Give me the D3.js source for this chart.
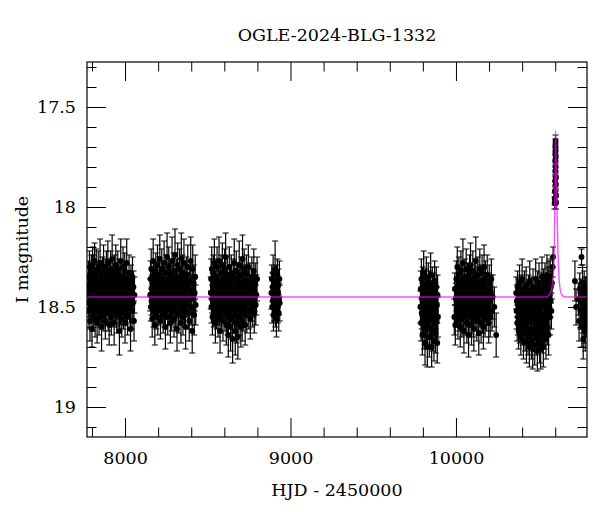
<!DOCTYPE html>
<html><head><meta charset="utf-8">
<script src="https://cdn.jsdelivr.net/npm/d3@7"></script>
<style>body{margin:0;background:#fff}text{font-family:"DejaVu Serif",serif;fill:#000}</style>
</head><body>
<svg id="c" width="600" height="512"></svg>
<script>
const title = "OGLE-2024-BLG-1332";
const xLabel = "HJD - 2450000";
const yLabel = "I magnitude";
const xMajorTicks = [8000, 9000, 10000];
const xMinorTicks = [7800, 8200, 8400, 8600, 8800, 9200, 9400, 9600, 9800, 10200, 10400, 10600];
const yMajorTicks = [17.5, 18, 18.5, 19];
const yMinorTicks = [17.3,17.4,17.6,17.7,17.8,17.9,18.1,18.2,18.3,18.4,18.6,18.7,18.8,18.9,19.1];

// [HJD-2450000, I mag, error]
const season1 = [[7778,18.41,.07],[7779,18.35,.08],[7781,18.48,.07],[7782,18.52,.09],[7784,18.39,.06],[7785,18.30,.08],[7787,18.44,.07],[7788,18.57,.10],[7790,18.46,.07],[7791,18.36,.08],[7793,18.42,.06],[7795,18.50,.08],[7796,18.33,.09],[7798,18.45,.07],[7800,18.61,.09],[7801,18.38,.07],[7803,18.47,.08],[7804,18.29,.09],[7806,18.43,.06],[7808,18.54,.08],[7809,18.40,.07],[7811,18.34,.10],[7813,18.49,.07],[7814,18.42,.07],[7816,18.27,.09],[7818,18.45,.08],[7819,18.56,.09],[7821,18.38,.07],[7823,18.44,.06],[7824,18.51,.08],[7826,18.32,.11],[7828,18.46,.07],[7830,18.40,.08],[7831,18.58,.10],[7833,18.36,.07],[7835,18.43,.07],[7836,18.49,.08],[7838,18.31,.09],[7840,18.47,.07],[7842,18.41,.06],[7843,18.55,.09],[7845,18.37,.08],[7847,18.45,.07],[7849,18.28,.12],[7850,18.52,.08],[7852,18.42,.07],[7854,18.35,.08],[7856,18.48,.07],[7858,18.60,.12],[7859,18.39,.07],[7861,18.44,.06],[7863,18.33,.08],[7865,18.50,.09],[7867,18.41,.07],[7868,18.46,.08],[7870,18.30,.11],[7872,18.54,.08],[7874,18.38,.07],[7876,18.43,.06],[7878,18.49,.08],[7879,18.35,.09],[7881,18.57,.09],[7883,18.40,.07],[7885,18.45,.07],[7887,18.32,.10],[7889,18.51,.08],[7890,18.42,.06],[7892,18.37,.08],[7894,18.47,.07],[7896,18.28,.11],[7898,18.53,.09],[7900,18.44,.07],[7902,18.39,.07],[7904,18.59,.10],[7905,18.34,.08],[7907,18.46,.07],[7909,18.41,.06],[7911,18.50,.08],[7913,18.31,.09],[7915,18.44,.07],[7917,18.55,.09],[7919,18.38,.07],[7920,18.48,.08],[7922,18.26,.12],[7924,18.43,.07],[7926,18.52,.08],[7928,18.36,.08],[7930,18.45,.06],[7932,18.40,.07],[7934,18.58,.11],[7936,18.33,.09],[7938,18.47,.07],[7940,18.42,.07],[7942,18.50,.08],[7944,18.29,.10],[7946,18.44,.07],[7948,18.37,.08],[7950,18.54,.09],[7952,18.41,.06],[7954,18.46,.07],[7956,18.31,.09],[7958,18.52,.08],[7960,18.39,.07],[7962,18.48,.08],[7964,18.34,.08],[7966,18.62,.12],[7968,18.43,.07],[7970,18.38,.07],[7972,18.51,.08],[7974,18.27,.11],[7976,18.45,.07],[7978,18.40,.06],[7980,18.56,.09],[7982,18.35,.08],[7984,18.47,.07],[7986,18.42,.07],[7988,18.30,.10],[7990,18.53,.08],[7992,18.44,.06],[7994,18.37,.08],[7996,18.49,.07],[7998,18.32,.09],[8000,18.58,.10],[8002,18.41,.07],[8004,18.46,.07],[8006,18.36,.08],[8008,18.51,.08],[8010,18.28,.12],[8012,18.43,.07],[8015,18.55,.09],[8018,18.39,.07],[8021,18.47,.08],[8024,18.33,.09],[8027,18.50,.08],[8030,18.42,.07],[8033,18.61,.11],[8036,18.37,.08],[8039,18.45,.07],[8042,18.52,.09],[8045,18.35,.10],[8048,18.48,.08],[8051,18.40,.08],[8054,18.57,.10],[8057,18.44,.09]];
const season2 = [[8152,18.44,.08],[8154,18.36,.09],[8156,18.50,.07],[8158,18.31,.10],[8160,18.47,.07],[8162,18.41,.07],[8164,18.56,.09],[8166,18.38,.08],[8168,18.45,.06],[8170,18.27,.11],[8172,18.52,.08],[8174,18.43,.07],[8176,18.35,.08],[8178,18.49,.07],[8180,18.59,.10],[8182,18.40,.07],[8184,18.46,.06],[8186,18.32,.09],[8188,18.53,.08],[8190,18.42,.07],[8192,18.37,.08],[8194,18.48,.07],[8196,18.29,.10],[8198,18.55,.09],[8200,18.44,.07],[8202,18.39,.06],[8204,18.51,.08],[8206,18.34,.09],[8208,18.46,.07],[8210,18.26,.12],[8212,18.42,.07],[8214,18.57,.09],[8216,18.37,.07],[8218,18.48,.08],[8220,18.41,.06],[8222,18.31,.10],[8224,18.50,.08],[8226,18.44,.07],[8228,18.36,.08],[8230,18.54,.09],[8232,18.40,.07],[8234,18.47,.06],[8236,18.28,.11],[8238,18.52,.08],[8240,18.43,.07],[8242,18.38,.08],[8244,18.60,.11],[8246,18.45,.07],[8248,18.33,.09],[8250,18.49,.07],[8252,18.41,.06],[8254,18.25,.12],[8256,18.46,.07],[8258,18.55,.09],[8260,18.39,.07],[8262,18.44,.07],[8264,18.30,.10],[8266,18.51,.08],[8268,18.42,.06],[8270,18.36,.08],[8272,18.48,.07],[8274,18.58,.10],[8276,18.34,.08],[8278,18.45,.07],[8280,18.40,.07],[8282,18.53,.09],[8284,18.27,.12],[8286,18.47,.07],[8288,18.43,.06],[8290,18.37,.08],[8292,18.50,.08],[8294,18.32,.09],[8296,18.56,.09],[8298,18.41,.07],[8300,18.46,.07],[8302,18.24,.13],[8304,18.44,.07],[8306,18.52,.08],[8308,18.38,.07],[8310,18.48,.07],[8312,18.35,.09],[8314,18.61,.11],[8316,18.42,.07],[8318,18.29,.11],[8320,18.47,.07],[8322,18.40,.06],[8324,18.54,.09],[8326,18.36,.08],[8328,18.45,.07],[8330,18.31,.10],[8332,18.51,.08],[8334,18.43,.07],[8336,18.38,.08],[8338,18.58,.10],[8340,18.26,.13],[8342,18.46,.07],[8344,18.41,.07],[8346,18.49,.08],[8348,18.33,.09],[8350,18.55,.09],[8352,18.44,.07],[8354,18.39,.07],[8356,18.28,.12],[8358,18.47,.08],[8360,18.52,.08],[8362,18.36,.08],[8364,18.43,.07],[8366,18.60,.11],[8368,18.40,.07],[8370,18.34,.09],[8373,18.48,.07],[8376,18.45,.07],[8379,18.30,.11],[8382,18.53,.08],[8385,18.41,.08],[8388,18.57,.10],[8391,18.37,.08],[8394,18.46,.07],[8397,18.27,.12],[8400,18.50,.09],[8403,18.42,.08],[8406,18.62,.11],[8409,18.31,.12],[8412,18.45,.09],[8415,18.38,.09],[8418,18.54,.10],[8421,18.43,.09],[8424,18.35,.11],[8427,18.49,.10]];
const season3 = [[8518,18.43,.08],[8520,18.36,.10],[8522,18.50,.08],[8524,18.31,.11],[8526,18.46,.07],[8528,18.55,.09],[8530,18.40,.07],[8532,18.47,.07],[8534,18.33,.09],[8536,18.52,.08],[8538,18.44,.07],[8540,18.28,.12],[8542,18.49,.08],[8544,18.39,.07],[8546,18.58,.10],[8548,18.42,.07],[8550,18.35,.09],[8552,18.47,.07],[8554,18.53,.08],[8556,18.30,.10],[8558,18.45,.07],[8560,18.41,.07],[8562,18.56,.09],[8564,18.37,.08],[8566,18.48,.07],[8568,18.27,.12],[8570,18.51,.08],[8572,18.43,.07],[8574,18.62,.11],[8576,18.38,.08],[8578,18.46,.07],[8580,18.33,.09],[8582,18.54,.09],[8584,18.42,.07],[8586,18.49,.08],[8588,18.29,.11],[8590,18.45,.07],[8592,18.57,.10],[8594,18.40,.07],[8596,18.36,.08],[8598,18.50,.08],[8600,18.44,.06],[8602,18.31,.10],[8604,18.53,.09],[8606,18.47,.07],[8608,18.25,.12],[8610,18.42,.07],[8612,18.59,.10],[8614,18.38,.08],[8616,18.48,.07],[8618,18.34,.09],[8620,18.55,.09],[8622,18.43,.07],[8624,18.64,.11],[8626,18.40,.07],[8628,18.46,.07],[8630,18.30,.10],[8632,18.52,.08],[8634,18.44,.07],[8636,18.37,.08],[8638,18.60,.12],[8640,18.49,.08],[8642,18.33,.09],[8644,18.45,.07],[8646,18.56,.10],[8648,18.41,.07],[8650,18.66,.12],[8652,18.47,.08],[8654,18.35,.09],[8656,18.51,.08],[8658,18.42,.07],[8660,18.28,.12],[8662,18.54,.09],[8664,18.45,.07],[8666,18.62,.12],[8668,18.39,.08],[8670,18.48,.07],[8672,18.32,.10],[8674,18.58,.10],[8676,18.43,.07],[8678,18.50,.08],[8680,18.36,.08],[8682,18.65,.11],[8684,18.46,.07],[8686,18.40,.07],[8688,18.55,.09],[8690,18.29,.12],[8692,18.47,.08],[8694,18.52,.08],[8696,18.38,.08],[8698,18.44,.07],[8700,18.60,.10],[8702,18.34,.09],[8704,18.49,.08],[8706,18.42,.07],[8708,18.57,.10],[8710,18.26,.12],[8712,18.46,.08],[8714,18.53,.09],[8716,18.39,.08],[8718,18.45,.07],[8720,18.31,.10],[8722,18.51,.08],[8724,18.43,.07],[8726,18.59,.10],[8728,18.37,.08],[8730,18.48,.07],[8733,18.33,.09],[8736,18.54,.09],[8739,18.41,.07],[8742,18.46,.08],[8745,18.30,.11],[8748,18.52,.09],[8751,18.44,.08],[8754,18.37,.09],[8757,18.56,.10],[8760,18.42,.08],[8763,18.48,.09],[8766,18.35,.10],[8769,18.51,.09],[8772,18.40,.09],[8775,18.46,.09],[8778,18.32,.11],[8781,18.53,.10],[8784,18.43,.09],[8787,18.38,.10],[8790,18.49,.10],[8794,18.44,.10],[8798,18.36,.11]];
const season4 = [[8885,18.43,.08],[8887,18.36,.07],[8889,18.50,.08],[8891,18.40,.07],[8893,18.47,.07],[8895,18.33,.09],[8897,18.54,.08],[8899,18.44,.07],[8901,18.38,.07],[8903,18.49,.08],[8905,18.42,.06],[8907,18.31,.14],[8909,18.52,.08],[8911,18.45,.07],[8913,18.37,.08],[8915,18.56,.09],[8917,18.41,.07],[8919,18.47,.07],[8921,18.34,.08],[8923,18.50,.08],[8925,18.43,.07],[8927,18.39,.08],[8929,18.53,.09],[8931,18.46,.08],[8933,18.36,.09],[8935,18.48,.09]];
const season5 = [[9785,18.50,.08],[9787,18.41,.09],[9789,18.58,.09],[9791,18.36,.10],[9793,18.53,.08],[9795,18.46,.08],[9797,18.64,.10],[9799,18.39,.09],[9801,18.55,.08],[9803,18.48,.08],[9805,18.33,.11],[9807,18.61,.10],[9809,18.51,.08],[9811,18.44,.08],[9813,18.68,.11],[9815,18.40,.09],[9817,18.56,.09],[9819,18.49,.08],[9821,18.35,.10],[9823,18.59,.09],[9825,18.52,.08],[9827,18.70,.10],[9829,18.43,.08],[9831,18.57,.09],[9833,18.38,.10],[9835,18.54,.08],[9837,18.47,.08],[9839,18.65,.10],[9841,18.41,.09],[9843,18.60,.09],[9845,18.50,.08],[9847,18.34,.11],[9849,18.56,.09],[9851,18.45,.08],[9853,18.70,.10],[9855,18.53,.08],[9857,18.39,.09],[9859,18.62,.10],[9861,18.48,.08],[9863,18.55,.09],[9865,18.42,.09],[9867,18.67,.10],[9869,18.51,.08],[9871,18.37,.10],[9873,18.58,.09],[9875,18.46,.08],[9877,18.63,.10],[9879,18.52,.09],[9881,18.40,.10],[9883,18.57,.09],[9885,18.49,.09],[9887,18.68,.10],[9889,18.44,.10],[9891,18.55,.10]];
const season6 = [[9990,18.55,.09],[9993,18.41,.08],[9996,18.59,.10],[9999,18.46,.08],[10002,18.36,.09],[10004,18.52,.08],[10006,18.43,.07],[10008,18.30,.10],[10010,18.49,.08],[10012,18.57,.09],[10014,18.40,.07],[10016,18.47,.07],[10018,18.34,.09],[10020,18.54,.08],[10022,18.44,.07],[10024,18.38,.08],[10026,18.60,.10],[10028,18.48,.07],[10030,18.32,.10],[10032,18.51,.08],[10034,18.42,.07],[10036,18.56,.09],[10038,18.37,.08],[10040,18.46,.07],[10042,18.28,.12],[10044,18.53,.08],[10046,18.45,.07],[10048,18.62,.11],[10050,18.39,.08],[10052,18.49,.07],[10054,18.35,.09],[10056,18.55,.09],[10058,18.43,.07],[10060,18.50,.08],[10062,18.31,.10],[10064,18.47,.07],[10066,18.58,.10],[10068,18.41,.07],[10070,18.36,.08],[10072,18.52,.08],[10074,18.44,.07],[10076,18.64,.11],[10078,18.38,.08],[10080,18.48,.07],[10082,18.33,.09],[10084,18.54,.09],[10086,18.46,.07],[10088,18.29,.11],[10090,18.51,.08],[10092,18.42,.07],[10094,18.59,.10],[10096,18.37,.08],[10098,18.49,.07],[10100,18.45,.07],[10102,18.32,.10],[10104,18.56,.09],[10106,18.43,.07],[10108,18.61,.11],[10110,18.40,.08],[10112,18.48,.07],[10114,18.35,.09],[10116,18.53,.08],[10118,18.46,.07],[10120,18.27,.12],[10122,18.50,.08],[10124,18.42,.07],[10126,18.57,.10],[10128,18.38,.08],[10130,18.47,.07],[10132,18.34,.09],[10134,18.55,.09],[10136,18.44,.07],[10138,18.63,.11],[10140,18.41,.07],[10142,18.49,.08],[10144,18.31,.10],[10146,18.52,.08],[10148,18.45,.07],[10150,18.37,.08],[10152,18.58,.10],[10154,18.43,.07],[10156,18.50,.08],[10158,18.33,.09],[10160,18.54,.09],[10162,18.47,.07],[10164,18.39,.08],[10166,18.60,.11],[10168,18.44,.07],[10170,18.30,.11],[10172,18.51,.08],[10174,18.42,.07],[10176,18.56,.09],[10178,18.36,.09],[10180,18.48,.08],[10183,18.45,.08],[10186,18.53,.09],[10189,18.34,.10],[10192,18.50,.09],[10195,18.41,.08],[10198,18.58,.10],[10201,18.38,.09],[10204,18.47,.09],[10207,18.55,.10],[10210,18.43,.09],[10214,18.36,.10],[10218,18.52,.10],[10222,18.45,.11],[10232,18.50,.10],[10243,18.64,.11]];
const season7 = [[10364,18.43,.08],[10366,18.52,.09],[10368,18.47,.08],[10370,18.58,.09],[10372,18.40,.08],[10374,18.55,.09],[10376,18.49,.08],[10378,18.62,.09],[10380,18.44,.08],[10382,18.53,.09],[10384,18.38,.09],[10386,18.59,.09],[10388,18.50,.08],[10390,18.46,.08],[10392,18.65,.09],[10394,18.42,.08],[10396,18.56,.09],[10398,18.51,.08],[10400,18.36,.10],[10402,18.60,.09],[10404,18.48,.08],[10406,18.54,.09],[10408,18.67,.09],[10410,18.44,.08],[10412,18.57,.09],[10414,18.41,.09],[10416,18.52,.08],[10418,18.63,.09],[10420,18.47,.08],[10422,18.55,.09],[10424,18.39,.09],[10426,18.68,.10],[10428,18.50,.08],[10430,18.58,.09],[10432,18.45,.08],[10434,18.53,.09],[10436,18.65,.09],[10438,18.42,.08],[10440,18.56,.09],[10442,18.49,.08],[10444,18.70,.10],[10446,18.37,.10],[10448,18.54,.09],[10450,18.61,.09],[10452,18.46,.08],[10454,18.52,.09],[10456,18.67,.09],[10458,18.43,.08],[10460,18.57,.09],[10462,18.50,.08],[10464,18.71,.10],[10466,18.40,.09],[10468,18.55,.09],[10470,18.63,.09],[10472,18.48,.08],[10474,18.53,.09],[10476,18.69,.10],[10478,18.44,.08],[10480,18.58,.09],[10482,18.36,.10],[10484,18.51,.08],[10486,18.65,.09],[10488,18.46,.08],[10490,18.56,.09],[10492,18.72,.10],[10494,18.41,.09],[10496,18.53,.09],[10498,18.61,.09],[10500,18.48,.08],[10502,18.38,.10],[10504,18.57,.09],[10506,18.68,.10],[10508,18.45,.08],[10510,18.52,.09],[10512,18.71,.10],[10514,18.42,.09],[10516,18.59,.09],[10518,18.49,.08],[10520,18.35,.10],[10522,18.55,.09],[10524,18.64,.09],[10526,18.46,.08],[10528,18.70,.10],[10530,18.40,.09],[10532,18.54,.09],[10534,18.50,.08],[10536,18.62,.09],[10538,18.37,.09],[10540,18.57,.09],[10542,18.47,.08],[10544,18.66,.10],[10546,18.43,.08],[10548,18.53,.09],[10550,18.34,.10],[10552,18.60,.09],[10554,18.45,.08],[10556,18.39,.09],[10558,18.51,.09],[10560,18.64,.10],[10562,18.36,.09],[10564,18.48,.08],[10566,18.42,.08],[10568,18.55,.09],[10570,18.35,.09],[10572,18.47,.08],[10574,18.40,.08],[10577,18.52,.09],[10580,18.38,.08]];
const peak = [[10584,18.30,.05],[10587,18.25,.05],[10596,17.98,.03],[10597,17.96,.03],[10598,17.92,.03],[10599,17.87,.03],[10600,17.82,.03],[10600,17.77,.03],[10601,17.73,.03],[10601,17.69,.03],[10602,17.67,.03],[10602,17.71,.03],[10603,17.75,.03],[10603,17.80,.03],[10604,17.85,.03],[10604,17.89,.03],[10605,17.94,.03],[10605,17.98,.03]];
const season8 = [[10719,18.37,.10],[10726,18.50,.09],[10740,18.46,.08],[10744,18.57,.10],[10748,18.41,.08],[10752,18.52,.09],[10756,18.44,.08],[10759,18.25,.04],[10761,18.60,.10],[10763,18.48,.08],[10765,18.38,.09],[10767,18.54,.09],[10769,18.66,.10],[10771,18.45,.08],[10773,18.51,.09],[10775,18.40,.08],[10777,18.58,.10],[10779,18.47,.08],[10781,18.62,.10],[10783,18.43,.08],[10785,18.53,.09],[10787,18.49,.08],[10789,18.56,.09],[10791,18.44,.09]];

// microlensing model curve
const modelT   = [7770, 10540, 10565, 10578, 10588, 10594, 10598, 10600, 10602, 10604, 10608, 10613, 10618, 10628, 10640, 10660, 10792];
const modelMag = [18.45, 18.45, 18.44, 18.41, 18.35, 18.23, 17.98, 17.78, 17.62, 17.72, 17.90, 18.10, 18.26, 18.40, 18.44, 18.45, 18.45];

const m = {left: 87, top: 62, right: 587, bottom: 437};
const x = d3.scaleLinear().domain([7770, 10792]).range([m.left, m.right]);
const y = d3.scaleLinear().domain([17.275, 19.15]).range([m.top, m.bottom]);
const FONT = "17.5px";

const svg = d3.select("#c");
svg.append("defs").append("clipPath").attr("id","clip")
  .append("rect").attr("x", m.left).attr("y", m.top).attr("width", m.right-m.left).attr("height", m.bottom-m.top);

const data = [].concat(season1, season2, season3, season4, season5, season6, season7, peak, season8);
const g = svg.append("g").attr("clip-path","url(#clip)");
const cap = 3;
const eb = g.append("g").attr("stroke","#000").attr("stroke-width",1.2).attr("fill","none");
data.forEach(d => {
  const px = x(d[0]), y1 = y(d[1]-d[2]), y2 = y(d[1]+d[2]);
  eb.append("path").attr("d", `M${px},${y1}V${y2}M${px-cap},${y1}H${px+cap}M${px-cap},${y2}H${px+cap}`);
});
g.append("g").selectAll("circle").data(data).join("circle")
  .attr("cx", d => x(d[0])).attr("cy", d => y(d[1])).attr("r", 2.9).attr("fill","#000");

const model = modelT.map((t,i) => [t, modelMag[i]]);
g.append("path").datum(model)
  .attr("d", d3.line().x(d => x(d[0])).y(d => y(d[1])).curve(d3.curveMonotoneX))
  .attr("fill","none").attr("stroke","#ff00ff").attr("stroke-width",1.4).attr("stroke-opacity",0.7);

// axes (inward ticks on all sides)
function axis(gen, transform, ticks, size, labels) {
  const a = svg.append("g").attr("transform", transform)
    .call(gen.tickValues(ticks).tickSize(-size).tickSizeOuter(0).tickPadding(labels ? labels : 3)
      .tickFormat(labels ? d3.format("") : () => ""));
  a.select(".domain").remove();
  a.selectAll("line").attr("stroke","#000").attr("stroke-width",1);
  a.selectAll("text").style("font-family","DejaVu Serif").style("font-size",FONT).attr("fill","#000");
  return a;
}
axis(d3.axisBottom(x), `translate(0,${m.bottom})`, xMajorTicks, 19, 15);
axis(d3.axisBottom(x), `translate(0,${m.bottom})`, xMinorTicks, 9.5, 0);
axis(d3.axisTop(x), `translate(0,${m.top})`, xMajorTicks, 19, 0);
axis(d3.axisTop(x), `translate(0,${m.top})`, xMinorTicks, 9.5, 0);
axis(d3.axisLeft(y), `translate(${m.left},0)`, yMajorTicks, 19, 11);
axis(d3.axisLeft(y), `translate(${m.left},0)`, yMinorTicks, 9.5, 0);
axis(d3.axisRight(y), `translate(${m.right},0)`, yMajorTicks, 19, 0);
axis(d3.axisRight(y), `translate(${m.right},0)`, yMinorTicks, 9.5, 0);

svg.append("rect").attr("x", m.left).attr("y", m.top).attr("width", m.right-m.left).attr("height", m.bottom-m.top)
  .attr("fill","none").attr("stroke","#000").attr("stroke-width",1.2);

svg.append("text").attr("x", (m.left+m.right)/2).attr("y", 41).attr("text-anchor","middle")
  .style("font-size",FONT).text(title);
svg.append("text").attr("x", (m.left+m.right)/2).attr("y", 496).attr("text-anchor","middle")
  .style("font-size",FONT).text(xLabel);
svg.append("text").attr("transform", `translate(28,${(m.top+m.bottom)/2}) rotate(-90)`).attr("text-anchor","middle")
  .style("font-size",FONT).text(yLabel);
</script>
</body></html>
